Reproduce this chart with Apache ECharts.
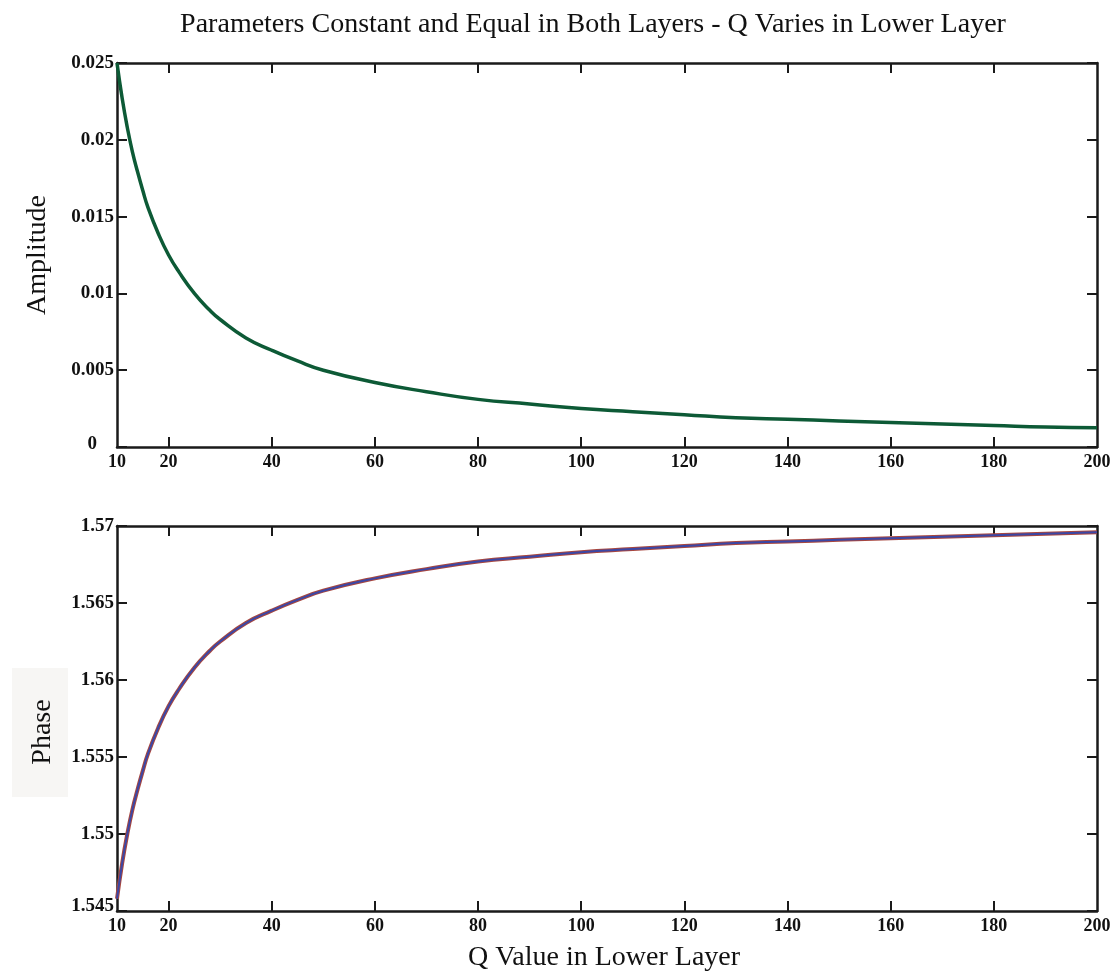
<!DOCTYPE html>
<html>
<head>
<meta charset="utf-8">
<script src="https://cdn.jsdelivr.net/npm/echarts@6/dist/echarts.min.js"></script>
<style>
  html, body { margin: 0; padding: 0; background: #fff; }
  #chart { width: 1116px; height: 974px; }
</style>
</head>
<body>
<div id="chart"></div>
<script>
const qValues = [10, 11, 12, 13, 14, 15, 16, 18, 20, 22, 25, 28, 30, 35, 40, 45, 50, 60, 70, 80, 90, 100, 110, 120, 130, 140, 150, 160, 170, 180, 190, 200]
const amplitude = [0.025, 0.0227, 0.0208, 0.0192, 0.0179, 0.0167, 0.0156, 0.0139, 0.0125, 0.0114, 0.0100, 0.0089, 0.0083, 0.0071, 0.0063, 0.0056, 0.0050, 0.0042, 0.0036, 0.0031, 0.0028, 0.0025, 0.0023, 0.0021, 0.0019, 0.0018, 0.0017, 0.0016, 0.0015, 0.0014, 0.0013, 0.00125]
const phaseRed = [1.5458, 1.5481, 1.5500, 1.5516, 1.5529, 1.5541, 1.5552, 1.5569, 1.5583, 1.5594, 1.5608, 1.5619, 1.5625, 1.5637, 1.5645, 1.5652, 1.5658, 1.5666, 1.5672, 1.5677, 1.5680, 1.5683, 1.5685, 1.5687, 1.5689, 1.5690, 1.5691, 1.5692, 1.5693, 1.5694, 1.5695, 1.5696]
const phaseBlue = [1.5458, 1.5481, 1.5500, 1.5516, 1.5529, 1.5541, 1.5552, 1.5569, 1.5583, 1.5594, 1.5608, 1.5619, 1.5625, 1.5637, 1.5645, 1.5652, 1.5658, 1.5666, 1.5672, 1.5677, 1.5680, 1.5683, 1.5685, 1.5687, 1.5689, 1.5690, 1.5691, 1.5692, 1.5693, 1.5694, 1.5695, 1.5696]
const xTicks = [10, 20, 40, 60, 80, 100, 120, 140, 160, 180, 200]

const serif = '"Liberation Serif", "DejaVu Serif", serif'
const lineCol = '#1a1a1a'
const nameStyle = { fontFamily: serif, fontSize: 28, fill: '#111' }
const labelFont = { fontFamily: serif, fontWeight: 'bold', fontSize: 19, color: '#111' }

const pair = (arr) => qValues.map((q, i) => [q, arr[i]])

function xAxisFor(gridIndex, position, showLabels) {
  return {
    type: 'value',
    gridIndex,
    position,
    min: 10,
    max: 200,
    axisLine: { show: true, onZero: false, lineStyle: { color: lineCol, width: 2.5 } },
    axisTick: {
      show: true,
      inside: true,
      length: 10,
      customValues: xTicks.slice(1, -1),
      lineStyle: { color: lineCol, width: 2 },
    },
    axisLabel: {
      show: showLabels,
      customValues: xTicks,
      fontFamily: serif,
      fontWeight: 'bold',
      fontSize: 18,
      color: '#111',
      margin: 6,
    },
    splitLine: { show: false },
  }
}

function yAxisFor(gridIndex, position, min, max, showLabels, lowPad) {
  return {
    type: 'value',
    gridIndex,
    position,
    min,
    max,
    interval: 0.005,
    axisLine: { show: true, onZero: false, lineStyle: { color: lineCol, width: 2.5 } },
    axisTick: { show: true, inside: true, length: 10, lineStyle: { color: lineCol, width: 2 } },
    axisLabel: {
      show: showLabels,
      ...labelFont,
      margin: 3,
      formatter: (v) => {
        const s = String(parseFloat(v.toFixed(3)))
        return Math.abs(v - min) < 1e-9 ? `{low|${s}}` : s
      },
      rich: {
        low: { ...labelFont, padding: lowPad },
      },
    },
    splitLine: { show: false },
  }
}

const chart = echarts.init(document.getElementById('chart'))

const option = {
  backgroundColor: '#fff',
  animation: false,
  title: {
    text: 'Parameters Constant and Equal in Both Layers - Q Varies in Lower Layer',
    left: 588,
    textAlign: 'center',
    top: 6,
    textStyle: { fontFamily: serif, fontSize: 28, fontWeight: 'normal', color: '#111' },
  },
  graphic: [
    {
      type: 'rect',
      z: 0,
      shape: { x: 12, y: 668, width: 56, height: 129 },
      style: { fill: '#f7f6f4' },
    },
    {
      type: 'text',
      x: 38,
      y: 255,
      rotation: Math.PI / 2,
      style: { ...nameStyle, text: 'Amplitude', textAlign: 'center', textVerticalAlign: 'middle' },
    },
    {
      type: 'text',
      x: 43,
      y: 732,
      rotation: Math.PI / 2,
      style: { ...nameStyle, text: 'Phase', textAlign: 'center', textVerticalAlign: 'middle' },
    },
    {
      type: 'text',
      x: 604,
      y: 958,
      style: { ...nameStyle, text: 'Q Value in Lower Layer', textAlign: 'center', textVerticalAlign: 'middle' },
    },
  ],
  grid: [
    { left: 117, right: 19, top: 63, height: 384 },
    { left: 117, right: 19, top: 526, height: 385 },
  ],
  xAxis: [
    xAxisFor(0, 'bottom', true),
    xAxisFor(0, 'top', false),
    xAxisFor(1, 'bottom', true),
    xAxisFor(1, 'top', false),
  ],
  yAxis: [
    yAxisFor(0, 'left', 0, 0.025, true, [0, 17, 6, 0]),
    yAxisFor(0, 'right', 0, 0.025, false, [0, 0, 0, 0]),
    yAxisFor(1, 'left', 1.545, 1.57, true, [0, 0, 10, 0]),
    yAxisFor(1, 'right', 1.545, 1.57, false, [0, 0, 0, 0]),
  ],
  series: [
    {
      type: 'line',
      xAxisIndex: 0,
      yAxisIndex: 0,
      data: pair(amplitude),
      smooth: true,
      symbol: 'none',
      lineStyle: { color: '#0d5a36', width: 3.5 },
    },
    {
      type: 'line',
      xAxisIndex: 2,
      yAxisIndex: 2,
      data: pair(phaseRed),
      smooth: true,
      symbol: 'none',
      lineStyle: { color: '#a8473f', width: 4 },
    },
    {
      type: 'line',
      xAxisIndex: 2,
      yAxisIndex: 2,
      data: pair(phaseBlue),
      smooth: true,
      symbol: 'none',
      lineStyle: { color: '#3b47a6', width: 2 },
    },
  ],
}

chart.setOption(option)
</script>
</body>
</html>
